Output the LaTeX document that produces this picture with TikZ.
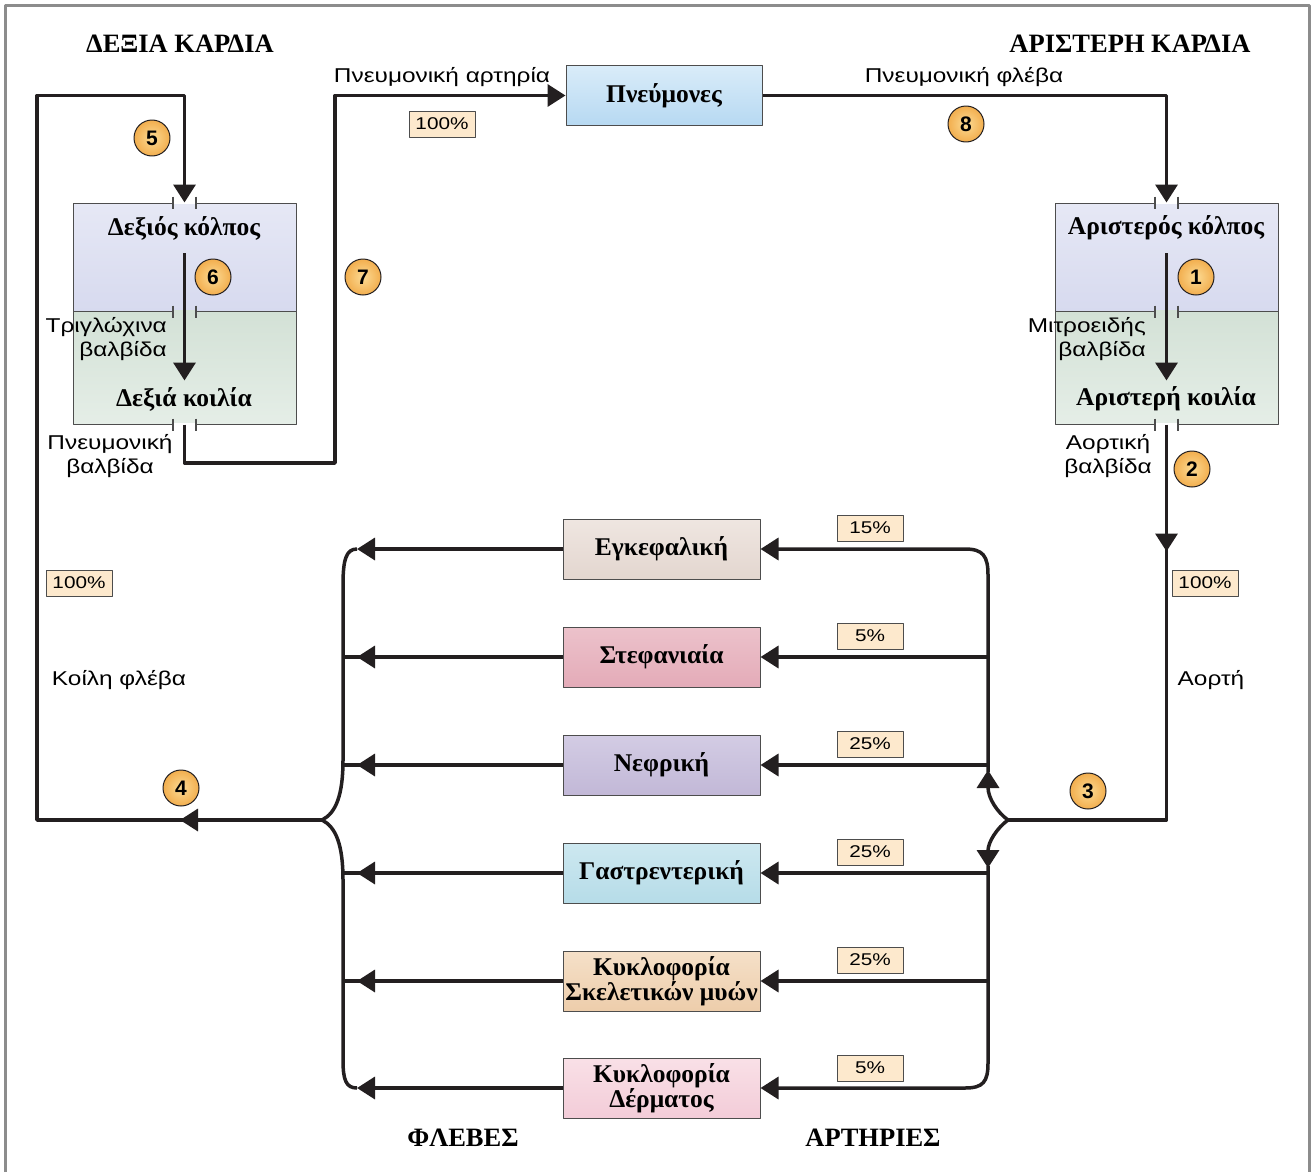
\documentclass[tikz,border=0pt]{standalone}
\usepackage{fontspec}
\setmainfont{Liberation Serif}
\setsansfont{Liberation Sans}
\newfontfamily\widesans{Liberation Sans}[FakeStretch=1.22]
\usepackage{tikz}
\usetikzlibrary{arrows.meta,positioning,shapes,calc,decorations.markings}

\definecolor{ink}{HTML}{231F20}
\definecolor{edge}{HTML}{4D4D4D}
\definecolor{frame}{HTML}{8C8C8C}
\definecolor{pctfill}{HTML}{FDE9CD}
\definecolor{numlight}{HTML}{FCDB94}
\definecolor{numdark}{HTML}{F2AE4E}
\definecolor{atrTop}{HTML}{E6E8F5}
\definecolor{atrBot}{HTML}{D7DAEF}
\definecolor{venTop}{HTML}{D3E1D6}
\definecolor{venBot}{HTML}{E5EEE7}
\definecolor{lungTop}{HTML}{D9ECF9}
\definecolor{lungBot}{HTML}{B7D9F2}
\definecolor{brainTop}{HTML}{EFE6E1}
\definecolor{brainBot}{HTML}{E3D6CF}
\definecolor{corTop}{HTML}{ECC2CB}
\definecolor{corBot}{HTML}{E4ABB8}
\definecolor{renTop}{HTML}{D3CCE4}
\definecolor{renBot}{HTML}{C2B8D7}
\definecolor{gasTop}{HTML}{CDE8F0}
\definecolor{gasBot}{HTML}{B6DCE8}
\definecolor{musTop}{HTML}{F5E0C8}
\definecolor{musBot}{HTML}{EDCDAB}
\definecolor{skinTop}{HTML}{F9E0E7}
\definecolor{skinBot}{HTML}{F3CCD8}

\newcommand{\valvegap}[2]{%
  \fill[#2] ($(#1)+(-11.5,-1.3)$) rectangle ($(#1)+(11.5,1.3)$);
  \draw[line width=1.3pt,draw=edge] ($(#1)+(-11.5,-6)$) -- ++(0,12) ($(#1)+(11.5,-6)$) -- ++(0,12);}

\begin{document}
\begin{tikzpicture}[x=1pt,y=-1pt,line join=round,
  flow/.style={draw=ink,line width=3.5pt},
  tip/.style={-{Triangle[length=18pt,width=22pt]}},
  midtip/.style={postaction={decorate},decoration={markings,mark=at position #1 with {\arrow{Triangle[length=18pt,width=22pt]}}}},
  chamber/.style={draw=edge,line width=1pt,minimum width=223pt,inner sep=0pt},
  organ/.style={draw=edge,line width=1pt,minimum width=197pt,minimum height=60pt,inner sep=0pt,align=center,font=\bfseries\fontsize{25.5}{24}\selectfont},
  pct/.style={draw=edge,fill=pctfill,line width=0.8pt,minimum width=66pt,minimum height=26pt,inner sep=0pt,font=\widesans\fontsize{17}{17}\selectfont},
  num/.style={circle,draw=ink,line width=1pt,inner color=numlight,outer color=numdark,minimum size=36pt,inner sep=0pt,font=\sffamily\bfseries\fontsize{21}{21}\selectfont},
  lbl/.style={font=\widesans\fontsize{20}{24}\selectfont,inner sep=0pt},
  heading/.style={font=\bfseries\fontsize{25.5}{24}\selectfont,inner sep=0pt},
  title/.style={font=\bfseries\fontsize{26.5}{26}\selectfont,inner sep=0pt}]
\useasboundingbox (0,0) rectangle (1311,1172);
\draw[draw=frame,line width=3pt] (5,1172) -- (5,6) -- (1309,6) -- (1309,1172);

\node[title] (tr) at (180,44) {ΔΕΞΙΑ ΚΑΡΔΙΑ};
\node[title] (tl) at (1130,44) {ΑΡΙΣΤΕΡΗ ΚΑΡΔΙΑ};

\node[chamber,minimum height=108pt,top color=atrTop,bottom color=atrBot] (ra) at (184.5,257) {};
\node[chamber,minimum height=113pt,top color=venTop,bottom color=venBot] (rv) at (184.5,367.5) {};
\node[chamber,minimum height=108pt,top color=atrTop,bottom color=atrBot] (la) at (1166.5,257) {};
\node[chamber,minimum height=113pt,top color=venTop,bottom color=venBot] (lv) at (1166.5,367.5) {};
\node[heading] (rat) at (184,228) {Δεξιός κόλπος};
\node[heading] (rvt) at (184,399) {Δεξιά κοιλία};
\node[heading] (lat) at (1166,228) {Αριστερός κόλπος};
\node[heading] (lvt) at (1166,399) {Αριστερή κοιλία};
\valvegap{ra.north}{white}
\valvegap{ra.south}{venTop}
\valvegap{rv.south}{white}
\valvegap{la.north}{white}
\valvegap{la.south}{venTop}
\valvegap{lv.south}{white}

\node[organ,minimum width=196pt,minimum height=59pt,top color=lungTop,bottom color=lungBot] (lungs) at (664,95.5) {Πνεύμονες};
\node[organ,top color=brainTop,bottom color=brainBot] (o1) at (661.5,549) {Εγκεφαλική};
\node[organ,top color=corTop,bottom color=corBot] (o2) at (661.5,657) {Στεφανιαία};
\node[organ,top color=renTop,bottom color=renBot] (o3) at (661.5,765) {Νεφρική};
\node[organ,top color=gasTop,bottom color=gasBot] (o4) at (661.5,873) {Γαστρεντερική};
\node[organ,top color=musTop,bottom color=musBot] (o5) at (661.5,981) {Κυκλοφορία\\Σκελετικών μυών};
\node[organ,top color=skinTop,bottom color=skinBot] (o6) at (661.5,1088) {Κυκλοφορία\\Δέρματος};

\coordinate (vj) at (322,820);
\coordinate (aj) at (1008,820);
\coordinate (vc) at (37,820);
\coordinate (pa) at (335,463);
\coordinate (vb) at (343,0);
\coordinate (ab) at (988,0);

\draw[flow,tip,midtip=142pt] (vj) -- (vc) |- (ra.north |- lungs.west) -- (ra.north);
\draw[flow,tip] ([yshift=4pt]ra.center) -- ([yshift=44pt]rv.south);
\draw[flow,tip] (rv.south) |- (pa) |- (lungs.west);
\draw[flow,tip] (lungs.east) -| (la.north);
\draw[flow,tip] ([yshift=4pt]la.center) -- ([yshift=44pt]lv.south);
\draw[flow,midtip=127pt] (lv.south) |- (aj);

\draw[flow,tip] (aj) .. controls (997,812) and (988,798) .. (988,770);
\draw[flow,tip] (988,772) -- (988,575) .. controls (988,556) and (983,549) .. (965,549) -- (o1.east);
\draw[flow,tip] (aj) .. controls (997,828) and (988,842) .. (988,868);
\draw[flow,tip] (988,866) -- (988,1063) .. controls (988,1082) and (983,1088) .. (965,1088) -- (o6.east);
\foreach \o in {o2,o3,o4,o5}
  \draw[flow,tip] (\o.east -| ab) -- (\o.east);

\draw[flow,tip] (o1.west) -- (357,549);
\draw[flow] (357,549) .. controls (346,549) and (343,560) .. (343,585) -- (343,760)
  .. controls (343,795) and (336,813) .. (vj) .. controls (336,827) and (343,845) .. (343,880)
  -- (343,1060) .. controls (343,1080) and (346,1088) .. (357,1088);
\draw[flow,tip] (o6.west) -- (357,1088);
\foreach \o in {o2,o3,o4,o5}
  \draw[flow,midtip=-14pt] (\o.west) -- (\o.west -| vb);

\node[pct] (p0) at (442,124) {100\%};
\node[pct] (pv) at (79,583) {100\%};
\node[pct] (pa2) at (1205,583) {100\%};
\foreach \y/\v [count=\i] in {528/15,636/5,744/25,852/25,960/25,1068/5}
  \node[pct] (p\i) at (870,\y) {\v\%};

\node[lbl] (pat) at (442,77) {Πνευμονική αρτηρία};
\node[lbl] (pvt) at (964,77) {Πνευμονική φλέβα};
\node[lbl,align=right,anchor=east] (tri) at (167,339) {Τριγλώχινα\\βαλβίδα};
\node[lbl,align=center] (pvv) at (110,456) {Πνευμονική\\βαλβίδα};
\node[lbl,align=right,anchor=east] (mit) at (1146,339) {Μιτροειδής\\βαλβίδα};
\node[lbl,align=center] (aov) at (1108,456) {Αορτική\\βαλβίδα};
\node[lbl] (kf) at (119,680) {Κοίλη φλέβα};
\node[lbl] (ao) at (1211,680) {Αορτή};

\node[num] (c1) at (1196,277) {1};
\node[num] (c2) at (1192,469) {2};
\node[num] (c3) at (1088,791) {3};
\node[num] (c4) at (181,788) {4};
\node[num] (c5) at (152,138) {5};
\node[num] (c6) at (213,277) {6};
\node[num] (c7) at (363,277) {7};
\node[num] (c8) at (966,124) {8};

\node[title] (fl) at (463,1138) {ΦΛΕΒΕΣ};
\node[title] (ar) at (873,1138) {ΑΡΤΗΡΙΕΣ};
\end{tikzpicture}
\end{document}
